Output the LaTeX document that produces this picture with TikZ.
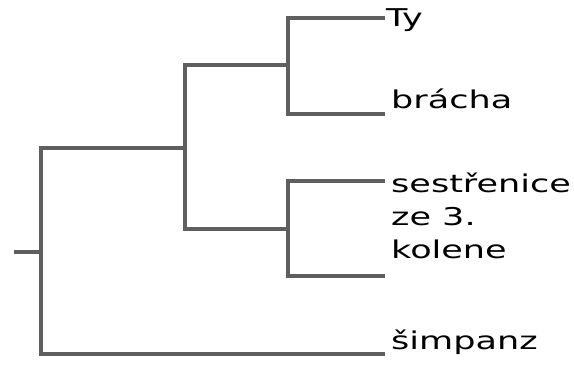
\documentclass[tikz,border=0pt]{standalone}
\usepackage{fontspec}
\setmainfont{DejaVu Sans}[FakeStretch=1.43]
\definecolor{linegray}{RGB}{95,95,95}
\begin{document}
\begin{tikzpicture}[x=1pt,y=-1pt,
  br/.style={draw=linegray, line width=4pt},
  leaf/.style={anchor=base west, inner sep=0pt, font=\fontsize{24.5}{33}\selectfont, align=left, text=black}]
\useasboundingbox (0,0) rectangle (574,367);
% internal nodes
\coordinate (root) at (14,252);
\coordinate (n1) at (41,252);
\coordinate (A) at (185,148);
\coordinate (B) at (288,65);
\coordinate (C) at (288,229);
% leaf ends
\coordinate (e1) at (385,18);
\coordinate (e2) at (385,114);
\coordinate (e3) at (385,181);
\coordinate (e4) at (385,276);
\coordinate (e5) at (385,354);
% branches
\draw[br] (root) -- (n1);
\draw[br] (n1) |- (A);
\draw[br] (n1) |- (e5);
\draw[br] (A) |- (B);
\draw[br] (A) |- (C);
\draw[br] (B) |- (e1);
\draw[br] (B) |- (e2);
\draw[br] (C) |- (e3);
\draw[br] (C) |- (e4);
% labels
\node[leaf] (ty) at (386,26) {Ty};
\node[leaf] (bracha) at (391,108) {brácha};
\node[leaf] (sest) at (391,258) {sestřenice\\ze 3.\\kolene};
\node[leaf] (simp) at (391,349) {šimpanz};
\end{tikzpicture}
\end{document}
